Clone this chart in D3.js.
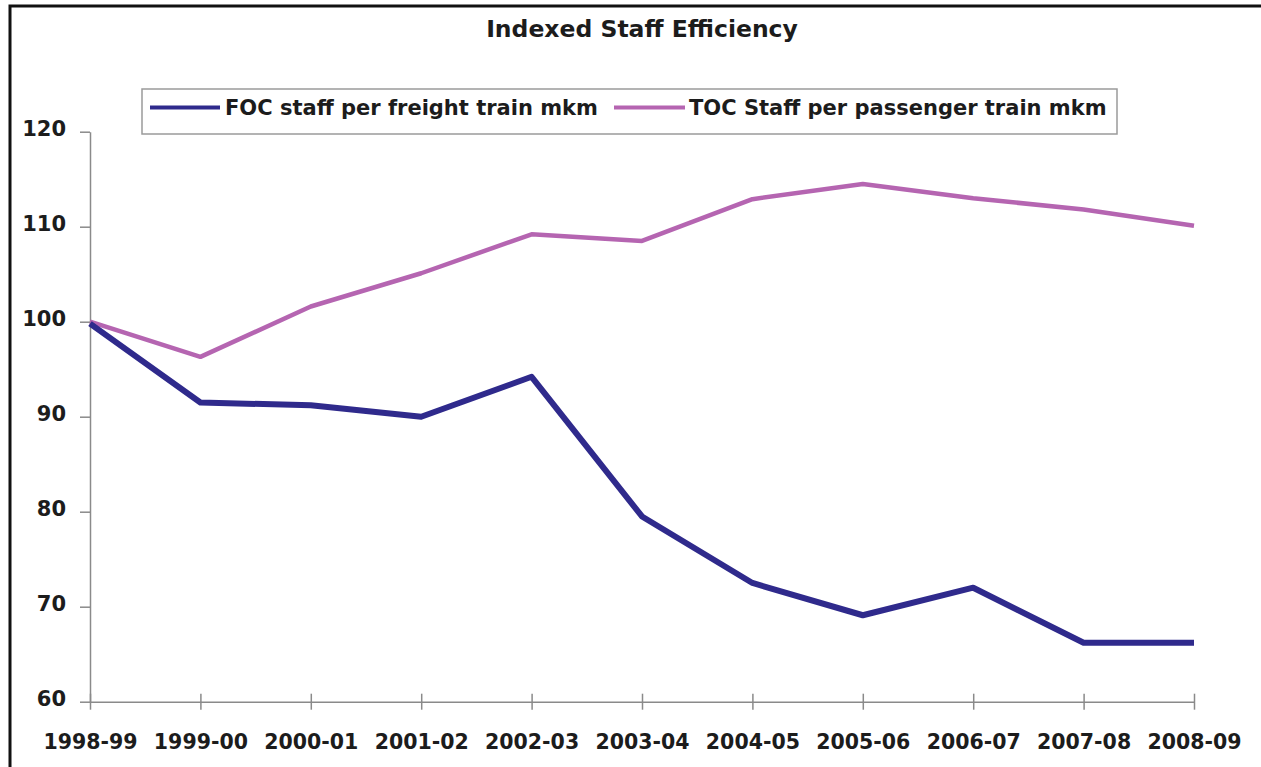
<!DOCTYPE html>
<html lang="en">
    <head>
        <meta charset="utf-8">
        <title>Indexed Staff Efficiency</title>
        <script src="https://d3js.org/d3.v7.min.js"></script>
        <style>
            body { margin: 0; background: #fff; }
            text { font-family: "DejaVu Sans", Verdana, sans-serif; fill: #1c1c1c; }
        </style>
    </head>
    <body>
        <svg width="1261" height="767"></svg>
        <script>
        // values
        var years = ["1998-99", "1999-00", "2000-01", "2001-02", "2002-03", "2003-04",
                     "2004-05", "2005-06", "2006-07", "2007-08", "2008-09"];
        var foc = [99.8, 91.5, 91.2, 90.0, 94.2, 79.5, 72.5, 69.1, 72.0, 66.2, 66.2];
        var toc = [100.0, 96.3, 101.6, 105.1, 109.2, 108.5, 112.9, 114.5, 113.0, 111.8, 110.1];
        var yTicks = [60, 70, 80, 90, 100, 110, 120];
        var seriesNames = ["FOC staff per freight train mkm", "TOC Staff per passenger train mkm"];

        var svg = d3.select("svg");

        var x = d3.scalePoint()
            .domain(years)
            .range([90, 1194]);

        var y = d3.scaleLinear()
            .domain([60, 120])
            .range([701.7, 131.7]);

        // outer frame
        svg.append("rect")
            .attr("x", 10)
            .attr("y", 6)
            .attr("width", 1270)
            .attr("height", 780)
            .attr("fill", "none")
            .attr("stroke", "#111")
            .attr("stroke-width", 3);

        svg.append("text")
            .attr("x", 642)
            .attr("y", 37)
            .attr("text-anchor", "middle")
            .attr("font-size", 23.5)
            .attr("font-weight", "bold")
            .text("Indexed Staff Efficiency");

        // y axis
        var gy = svg.append("g")
            .attr("transform", "translate(90,0)")
            .call(d3.axisLeft(y).tickValues(yTicks).tickSizeInner(10).tickSizeOuter(0).tickPadding(14));
        gy.select(".domain").attr("stroke", "#8a8a8a").attr("stroke-width", 1.5);
        gy.selectAll(".tick line").attr("stroke", "#8a8a8a").attr("stroke-width", 1.5);
        gy.selectAll(".tick text")
            .attr("dy", "0.16em")
            .attr("font-size", 21)
            .attr("font-weight", "bold")
            .attr("font-family", "DejaVu Sans")
            .attr("fill", "#1c1c1c");

        // x axis
        var gx = svg.append("g")
            .attr("transform", "translate(0," + y(60) + ")")
            .call(d3.axisBottom(x).tickSizeOuter(0));
        gx.select(".domain").attr("stroke", "#8a8a8a").attr("stroke-width", 1.5);
        gx.selectAll(".tick line")
            .attr("y1", -8)
            .attr("y2", 8)
            .attr("stroke", "#8a8a8a")
            .attr("stroke-width", 1.5);
        gx.selectAll(".tick text")
            .attr("y", 47)
            .attr("dy", 0)
            .attr("font-size", 20.5)
            .attr("font-weight", "bold")
            .attr("font-family", "DejaVu Sans")
            .attr("fill", "#1c1c1c");

        var line = d3.line()
            .x(function(d, i) { return x(years[i]); })
            .y(function(d) { return y(d); });

        svg.append("path")
            .datum(toc)
            .attr("fill", "none")
            .attr("stroke", "#b565b1")
            .attr("stroke-width", 4.5)
            .attr("stroke-linejoin", "round")
            .attr("d", line);

        svg.append("path")
            .datum(foc)
            .attr("fill", "none")
            .attr("stroke", "#2f2a8c")
            .attr("stroke-width", 6)
            .attr("stroke-linejoin", "round")
            .attr("d", line);

        // legend
        var legend = svg.append("g").attr("class", "legend");
        legend.append("rect")
            .attr("x", 142)
            .attr("y", 89)
            .attr("width", 975)
            .attr("height", 45)
            .attr("fill", "#fff")
            .attr("stroke", "#9a9a9a")
            .attr("stroke-width", 1.5);

        var items = [
            {name: seriesNames[0], color: "#2f2a8c", width: 4, x0: 150, x1: 220, tx: 225},
            {name: seriesNames[1], color: "#b565b1", width: 4, x0: 614, x1: 685, tx: 689}
        ];
        items.forEach(function(it) {
            legend.append("line")
                .attr("x1", it.x0)
                .attr("x2", it.x1)
                .attr("y1", 107.5)
                .attr("y2", 107.5)
                .attr("stroke", it.color)
                .attr("stroke-width", it.width);
            legend.append("text")
                .attr("x", it.tx)
                .attr("y", 115)
                .attr("font-size", 21)
                .attr("font-weight", "bold")
                .text(it.name);
        });
        </script>
    </body>
</html>
